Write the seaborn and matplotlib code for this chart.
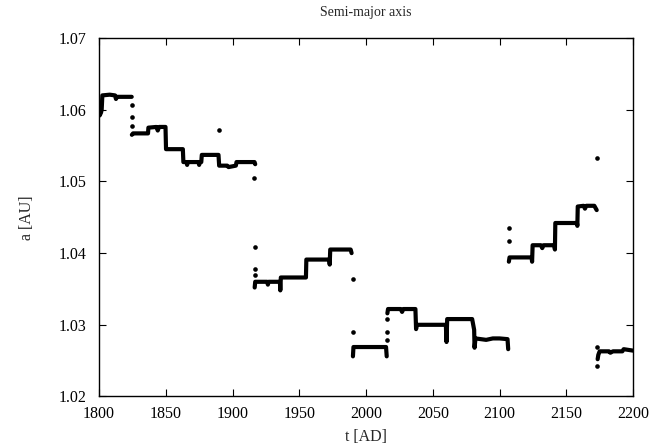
import pandas as pd
import matplotlib
matplotlib.use('Agg')
import matplotlib.pyplot as plt
import seaborn as sns

# step vertices of the semi-major axis track, one id per unbroken piece
step_piece = [0]*10 + [1]*27 + [2]*15 + [3]*4 + [4]*21 + [5]*19 + [6]*9
step_t = [1800.0, 1800.5, 1801.5, 1802.0, 1802.5, 1808.0, 1812.0, 1812.7, 1813.5, 1824.5,
          1824.6, 1825.5, 1836.7, 1837.0, 1843.0, 1844.0, 1845.0, 1849.8, 1850.2, 1862.8,
          1863.2, 1865.5, 1866.0, 1866.5, 1874.5, 1875.0, 1875.5, 1876.6, 1877.0, 1889.5,
          1890.0, 1896.0, 1897.0, 1902.5, 1903.0, 1916.5, 1917.0,
          1916.6, 1917.0, 1926.0, 1926.5, 1927.0, 1935.5, 1935.8, 1936.2, 1955.0, 1955.3,
          1972.5, 1972.8, 1973.2, 1988.5, 1989.2,
          1990.2, 1990.6, 2015.0, 2015.5,
          2016.0, 2016.5, 2026.0, 2027.0, 2028.0, 2037.0, 2037.5, 2038.0, 2059.8, 2060.3,
          2060.8, 2079.5, 2080.0, 2081.0, 2081.3, 2082.0, 2090.0, 2095.0, 2100.0, 2106.0, 2106.5,
          2107.0, 2107.5, 2124.0, 2124.4, 2124.8, 2131.0, 2132.0, 2133.0, 2141.0, 2141.5,
          2141.8, 2158.0, 2158.3, 2158.6, 2163.0, 2164.0, 2165.0, 2171.0, 2172.8,
          2173.5, 2174.0, 2175.0, 2182.0, 2183.0, 2185.0, 2192.0, 2193.0, 2200.0]
step_a = [1.0598, 1.0592, 1.0596, 1.0600, 1.0620, 1.0621, 1.0620, 1.0615, 1.0618, 1.0618,
          1.0565, 1.0567, 1.0567, 1.0575, 1.0576, 1.0571, 1.0576, 1.0576, 1.0545, 1.0545,
          1.0527, 1.0527, 1.0523, 1.0527, 1.0527, 1.0523, 1.0527, 1.0527, 1.0537, 1.0537,
          1.0522, 1.0522, 1.0520, 1.0522, 1.0527, 1.0527, 1.0524,
          1.0352, 1.0360, 1.0360, 1.0356, 1.0360, 1.0360, 1.0348, 1.0366, 1.0366, 1.0391,
          1.0391, 1.0384, 1.0405, 1.0405, 1.0400,
          1.0256, 1.0269, 1.0269, 1.0256,
          1.0316, 1.0322, 1.0322, 1.0318, 1.0322, 1.0322, 1.0294, 1.0300, 1.0300, 1.0276,
          1.0308, 1.0308, 1.0303, 1.0293, 1.0268, 1.0281, 1.0279, 1.0281, 1.0281, 1.0280, 1.0266,
          1.0388, 1.0394, 1.0394, 1.0388, 1.0411, 1.0411, 1.0407, 1.0411, 1.0411, 1.0405,
          1.0442, 1.0442, 1.0438, 1.0465, 1.0466, 1.0462, 1.0466, 1.0466, 1.0460,
          1.0252, 1.0258, 1.0263, 1.0263, 1.0261, 1.0263, 1.0263, 1.0266, 1.0264]

# isolated points between the plateaus
lone_t = [1824.5, 1824.5, 1824.5, 1890.0, 1916.4, 1916.5, 1916.5, 1916.5, 1990.0, 1990.0,
          2015.8, 2015.8, 2015.8, 2107.0, 2107.0, 2173.0, 2173.3, 2173.3]
lone_a = [1.0607, 1.0590, 1.0577, 1.0572, 1.0505, 1.0408, 1.0378, 1.0370, 1.0364, 1.0290,
          1.0308, 1.0290, 1.0279, 1.0435, 1.0417, 1.0532, 1.0269, 1.0243]

steps = pd.DataFrame({'t': step_t, 'a': step_a, 'piece': step_piece})
lone = pd.DataFrame({'t': lone_t, 'a': lone_a})

sns.set_theme(style='ticks')
plt.rcParams['font.family'] = ['Liberation Serif', 'DejaVu Serif']
plt.rcParams['font.size'] = 11

fig = plt.figure(figsize=(6.57, 4.46), dpi=100)
ax = fig.add_axes([0.1507, 0.111, 0.8128, 0.8037])

for pid, grp in steps.groupby('piece'):
    sns.lineplot(x='t', y='a', data=grp, sort=False, estimator=None,
                 color='black', linewidth=3.0, solid_capstyle='round',
                 solid_joinstyle='round', ax=ax)
sns.scatterplot(x='t', y='a', data=lone, color='black', s=11,
                linewidth=0, ax=ax)

ax.set_xlim(1800, 2200)
ax.set_ylim(1.02, 1.07)
ax.set_xticks(range(1800, 2201, 50))
ax.set_yticks([1.02, 1.03, 1.04, 1.05, 1.06, 1.07])
ax.set_yticklabels(['1.02', '1.03', '1.04', '1.05', '1.06', '1.07'])
ax.tick_params(axis='both', direction='in', length=5, width=0.8, top=True, right=True,
               labelsize=11.5, colors='black')
ax.tick_params(axis='y', pad=9)
ax.tick_params(axis='x', pad=7)
for sp in ax.spines.values():
    sp.set_visible(True)
    sp.set_color('black')
    sp.set_linewidth(1.0)

ax.set_xlabel('t [AD]', fontsize=11.5, labelpad=5)
ax.set_ylabel('a [AU]', fontsize=11.5, labelpad=17)
ax.set_title('Semi-major axis', fontsize=10, pad=16)

fig.savefig('out.png', dpi=100)
